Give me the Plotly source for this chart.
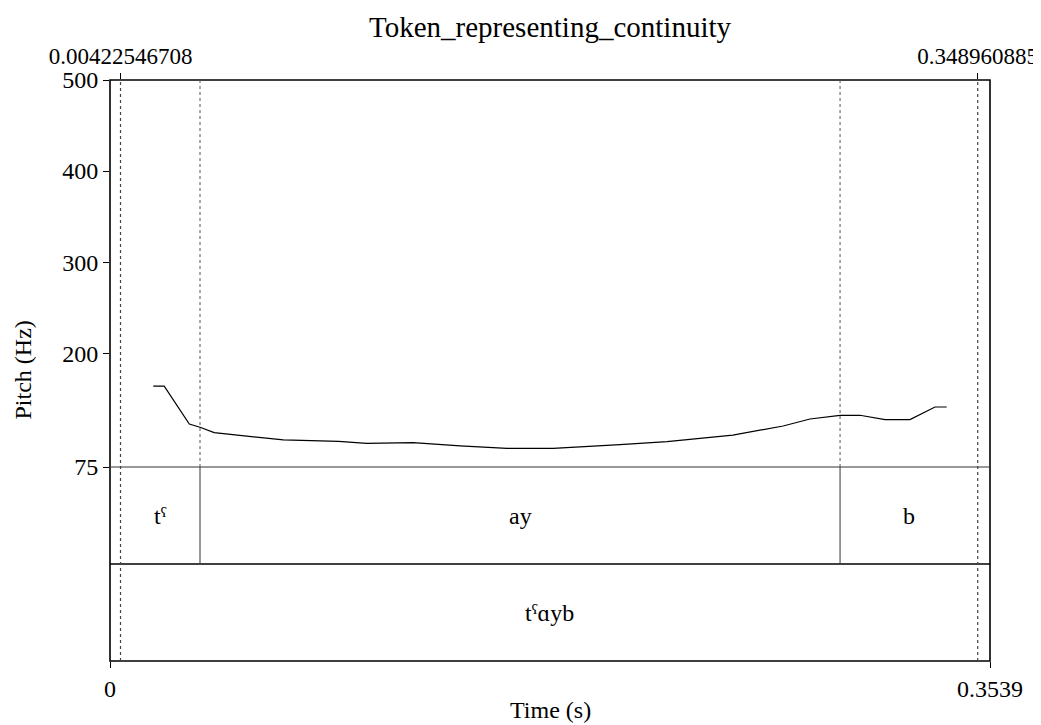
import plotly.graph_objects as go

# ---- data ----
pitch_time = [0.0174, 0.0218, 0.0319, 0.0362, 0.0419, 0.0697, 0.0920, 0.1032, 0.1219,
              0.1408, 0.1597, 0.1782, 0.2051, 0.2240, 0.2505, 0.2707, 0.2815, 0.2936,
              0.3016, 0.3117, 0.3217, 0.3318, 0.3365]
pitch_hz = [163.9, 163.9, 122.2, 118.6, 112.7, 104.7, 103.2, 101.0, 101.7,
            98.1, 95.5, 95.5, 99.5, 102.8, 110.1, 120.0, 127.7, 131.8,
            131.8, 127.0, 127.0, 140.9, 140.9]

sel_start = 0.00422546708
sel_end = 0.348960885
total_dur = 0.3539

phone_bounds = [sel_start, 0.0362, 0.2936, sel_end]
phone_labels = ["tˤ", "ay", "b"]
word_bounds = [sel_start, sel_end]
word_labels = ["tˤɑyb"]

pitch_ticks = [75, 200, 300, 400, 500]
pitch_range = [75, 500]

title = "Token_representing_continuity"

FONT = "Liberation Serif"
FS = 24

# layout geometry (page body has an 8px margin, so figure is 8px smaller)
OFF = 8
W, H = 1041 - OFF, 725 - OFF
ML, MR, MT, MB = 110 - OFF, 51, 80 - OFF, 64
plot_h = H - MT - MB
pitch_frac = (661 - 467) / plot_h  # boundary between pitch pane and tiers

fig = go.Figure()
fig.add_trace(go.Scatter(x=pitch_time, y=pitch_hz, mode="lines",
                         line=dict(color="black", width=1.2), xaxis="x", yaxis="y",
                         showlegend=False, hoverinfo="skip"))
# invisible trace for top axis
fig.add_trace(go.Scatter(x=[sel_start, sel_end], y=[pitch_range[0], pitch_range[0]],
                         mode="markers", marker=dict(opacity=0), xaxis="x2", yaxis="y",
                         showlegend=False, hoverinfo="skip"))

shapes = []
# outer frame
shapes.append(dict(type="rect", xref="paper", yref="paper", x0=0, x1=1, y0=0, y1=1,
                   line=dict(color="black", width=1.6)))
# tier separators
shapes.append(dict(type="line", xref="paper", yref="paper", x0=0, x1=1,
                   y0=pitch_frac, y1=pitch_frac, line=dict(color="#333", width=1)))
shapes.append(dict(type="line", xref="paper", yref="paper", x0=0, x1=1,
                   y0=pitch_frac / 2, y1=pitch_frac / 2, line=dict(color="black", width=1.6)))
# selection dotted lines (full height)
for t in [sel_start, sel_end]:
    shapes.append(dict(type="line", xref="x", yref="paper", x0=t, x1=t, y0=0, y1=1,
                       line=dict(color="#444", width=1.2, dash="dot")))
# inner phone boundaries
for t in phone_bounds[1:-1]:
    shapes.append(dict(type="line", xref="x", yref="y", x0=t, x1=t,
                       y0=pitch_range[0], y1=pitch_range[1],
                       line=dict(color="#555", width=1, dash="dot")))
    shapes.append(dict(type="line", xref="x", yref="y2", x0=t, x1=t, y0=1, y1=2,
                       line=dict(color="#333", width=1)))

annotations = []
for i, lab in enumerate(phone_labels):
    xc = (phone_bounds[i] + phone_bounds[i + 1]) / 2
    annotations.append(dict(x=xc, y=1.5, xref="x", yref="y2", text=lab, showarrow=False,
                            font=dict(family=FONT, size=FS, color="black")))
for i, lab in enumerate(word_labels):
    xc = (word_bounds[i] + word_bounds[i + 1]) / 2
    annotations.append(dict(x=xc, y=0.5, xref="x", yref="y2", text=lab, showarrow=False,
                            font=dict(family=FONT, size=FS, color="black")))
# axis titles
annotations.append(dict(x=0, y=0.5, xref="paper", yref="paper", xshift=-88, text="Pitch (Hz)",
                        textangle=-90, showarrow=False, xanchor="center", yanchor="middle",
                        font=dict(family=FONT, size=FS, color="black")))
annotations.append(dict(x=0.5, y=0, xref="paper", yref="paper", yshift=-49, text="Time (s)",
                        showarrow=False, xanchor="center", yanchor="middle",
                        font=dict(family=FONT, size=FS, color="black")))
annotations.append(dict(x=0.5, y=1, xref="paper", yref="paper", yshift=53, text=title,
                        showarrow=False, xanchor="center", yanchor="middle",
                        font=dict(family=FONT, size=29, color="black")))

axis_common = dict(showgrid=False, zeroline=False, showline=False, automargin=False,
                   ticks="outside", ticklen=6, tickwidth=1.2, tickcolor="black")

fig.update_layout(
    width=W, height=H,
    margin=dict(l=ML, r=MR, t=MT, b=MB, pad=0),
    plot_bgcolor="white", paper_bgcolor="white",
    xaxis=dict(range=[0, total_dur], anchor="y2", tickvals=[0, total_dur],
               ticktext=["0", "0.3539"],
               tickfont=dict(family=FONT, size=FS, color="black"), **axis_common),
    xaxis2=dict(range=[0, total_dur], overlaying="x", side="top", anchor="y",
                tickvals=[sel_start, sel_end],
                ticktext=["0.00422546708", "0.348960885"],
                tickfont=dict(family=FONT, size=23, color="black"), **axis_common),
    yaxis=dict(range=pitch_range, domain=[pitch_frac, 1], tickvals=pitch_ticks,
               anchor="x", tickfont=dict(family=FONT, size=FS, color="black"),
               **axis_common),
    yaxis2=dict(range=[0, 2], domain=[0, pitch_frac], showticklabels=False, ticks="",
                showgrid=False, zeroline=False, showline=False, anchor="x",
                automargin=False),
    shapes=shapes,
    annotations=annotations,
)

fig.write_html("out.html")
